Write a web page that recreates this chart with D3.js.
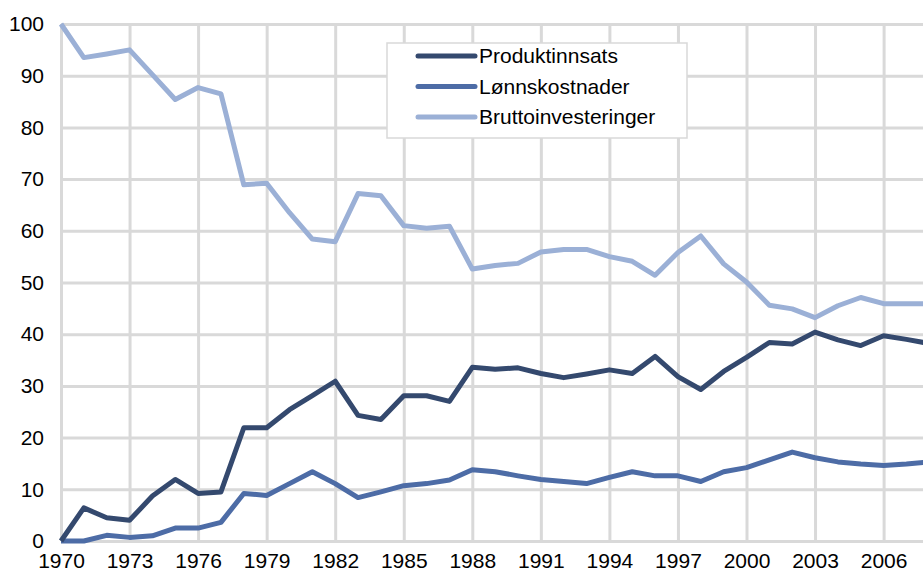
<!DOCTYPE html>
<html>
<head>
<meta charset="utf-8">
<script src="https://cdn.jsdelivr.net/npm/d3@7"></script>
<style>
  body { margin: 0; background: #fff; }
  text { font-family: "Liberation Sans", Arial, sans-serif; }
</style>
</head>
<body>
<div id="chart"></div>
<script>
// data (index, 1970 = 100 for Bruttoinvesteringer)
var years = d3.range(1970, 2009);
var tickYears = [1970, 1973, 1976, 1979, 1982, 1985, 1988, 1991, 1994, 1997, 2000, 2003, 2006];
var yTicks = [0, 10, 20, 30, 40, 50, 60, 70, 80, 90, 100];
var seriesNames = ["Produktinnsats", "Lønnskostnader", "Bruttoinvesteringer"];

var produktinnsats = [0, 6.4, 4.5, 4.0, 8.7, 11.9, 9.2, 9.5, 21.9, 21.9,
  25.4, 28.1, 30.9, 24.3, 23.5, 28.1, 28.1, 27.0, 33.6, 33.2,
  33.5, 32.4, 31.6, 32.3, 33.1, 32.4, 35.7, 31.8, 29.3, 32.8,
  35.5, 38.4, 38.1, 40.4, 38.9, 37.8, 39.7, 39.0, 38.2];
var lonnskostnader = [0, 0, 1.1, 0.7, 1.0, 2.5, 2.5, 3.6, 9.2, 8.8,
  11.1, 13.4, 11.1, 8.4, 9.5, 10.7, 11.1, 11.8, 13.8, 13.4,
  12.6, 11.9, 11.5, 11.1, 12.3, 13.4, 12.6, 12.6, 11.5, 13.4,
  14.2, 15.7, 17.2, 16.1, 15.3, 14.9, 14.6, 14.9, 15.3];
var bruttoinvesteringer = [100, 93.5, 94.2, 95.0, 90.2, 85.4, 87.7, 86.5, 68.9, 69.2,
  63.5, 58.4, 57.9, 67.2, 66.8, 61.0, 60.5, 60.9, 52.6, 53.3,
  53.7, 55.9, 56.4, 56.4, 55.0, 54.1, 51.4, 55.8, 59.0, 53.6,
  50.1, 45.6, 44.9, 43.2, 45.5, 47.1, 45.9, 45.9, 45.9];

var colors = ["#34496e", "#4d6ca6", "#9bb0d6"];

// set the dimensions
var fullWidth = 923, fullHeight = 578;
var margin = {top: 24, left: 61, bottom: 37};
var height = fullHeight - margin.top - margin.bottom;

// set the ranges
var x = d3.scaleLinear()
    .domain([1970, 2008])
    .range([0, 22.85 * 38]);
var y = d3.scaleLinear()
    .domain([0, 100])
    .range([height, 0]);

var svg = d3.select("#chart").append("svg")
    .attr("width", fullWidth)
    .attr("height", fullHeight)
  .append("g")
    .attr("transform", "translate(" + margin.left + "," + margin.top + ")");

// horizontal grid
svg.append("g")
    .call(d3.axisLeft(y).tickValues(yTicks).tickSize(-(fullWidth - margin.left)).tickFormat(""))
    .call(function(g) { g.select(".domain").remove(); })
    .selectAll("line")
    .style("stroke", "#d9d9d9")
    .style("stroke-width", 3);

// vertical grid
svg.append("g")
    .attr("transform", "translate(0," + height + ")")
    .call(d3.axisBottom(x).tickValues(tickYears).tickSize(-height).tickFormat(""))
    .call(function(g) { g.select(".domain").remove(); })
    .selectAll("line")
    .style("stroke", "#d9d9d9")
    .style("stroke-width", 3);

// y axis labels
svg.append("g")
    .call(d3.axisLeft(y).tickValues(yTicks).tickSize(0).tickPadding(17))
    .call(function(g) { g.select(".domain").remove(); })
    .selectAll("text")
    .style("font-size", "21px")
    .style("fill", "#000")
    .attr("font-family", null);

// x axis labels
svg.append("g")
    .attr("transform", "translate(0," + height + ")")
    .call(d3.axisBottom(x).tickValues(tickYears).tickSize(0).tickPadding(12).tickFormat(d3.format("d")))
    .call(function(g) { g.select(".domain").remove(); })
    .selectAll("text")
    .style("font-size", "21px")
    .style("fill", "#000")
    .attr("font-family", null);

// lines
var series = [produktinnsats, lonnskostnader, bruttoinvesteringer];
var line = d3.line()
    .x(function(d, i) { return x(years[i]); })
    .y(function(d) { return y(d); });

// draw light first so darker lines sit on top
[2, 1, 0].forEach(function(k) {
  svg.append("path")
      .datum(series[k])
      .attr("d", line)
      .attr("fill", "none")
      .attr("stroke", colors[k])
      .attr("stroke-width", 5)
      .attr("stroke-linejoin", "round");
});

// legend
var legend = d3.select("svg").append("g")
    .attr("transform", "translate(387,43)");
legend.append("rect")
    .attr("width", 300)
    .attr("height", 95)
    .attr("fill", "#fff")
    .attr("stroke", "#d9d9d9")
    .attr("stroke-width", 1.5);
seriesNames.forEach(function(name, i) {
  var row = legend.append("g").attr("transform", "translate(0," + (13 + i * 30.5) + ")");
  row.append("line")
      .attr("x1", 31).attr("x2", 88)
      .attr("stroke", colors[i])
      .attr("stroke-width", 5)
      .attr("stroke-linecap", "round");
  row.append("text")
      .attr("x", 92)
      .attr("dy", "0.35em")
      .style("font-size", "21px")
      .text(name);
});
</script>
</body>
</html>
